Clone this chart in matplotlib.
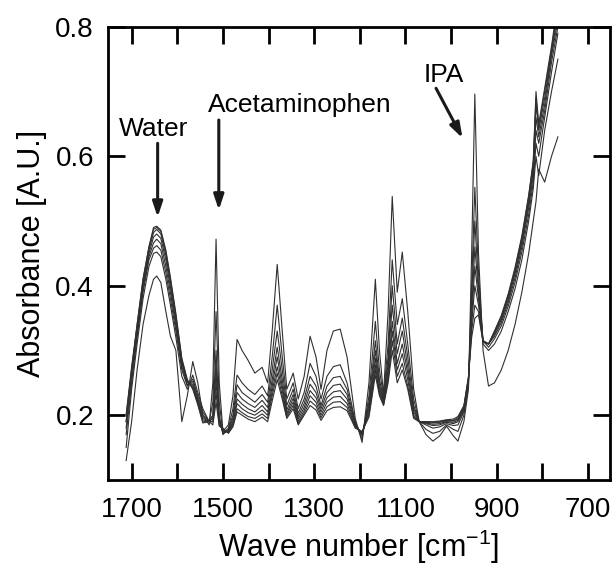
import numpy as np
import matplotlib
matplotlib.use('Agg')
import matplotlib.pyplot as plt

plt.rcParams['font.family'] = ['Liberation Sans', 'DejaVu Sans']
plt.rcParams['mathtext.default'] = 'regular'

wn = [1712, 1700, 1688, 1675, 1662, 1652, 1645, 1636, 1625, 1615, 1603, 1590,
      1578, 1566, 1555, 1544, 1530, 1522, 1515, 1508, 1500, 1488, 1478, 1469,
      1458, 1445, 1430, 1414, 1402, 1392, 1381, 1370, 1360, 1346, 1335, 1322,
      1309, 1296, 1285, 1272, 1258, 1243, 1228, 1210, 1195, 1180, 1166, 1157,
      1148, 1138, 1129, 1118, 1107, 1095, 1082, 1070, 1055, 1040, 1025, 1010,
      995, 985, 972, 962, 955, 948, 940, 930, 918, 905, 890, 875, 860, 845,
      830, 820, 814, 808, 795, 780, 766]

# one row per wave number, one column per spectrum
table = [
    [0.13, 0.15, 0.17, 0.18, 0.19, 0.19, 0.20, 0.20],
    [0.19, 0.24, 0.25, 0.26, 0.265, 0.27, 0.27, 0.275],
    [0.27, 0.31, 0.32, 0.325, 0.33, 0.335, 0.34, 0.34],
    [0.34, 0.38, 0.39, 0.395, 0.40, 0.405, 0.41, 0.41],
    [0.385, 0.43, 0.44, 0.445, 0.45, 0.455, 0.46, 0.46],
    [0.41, 0.45, 0.458, 0.466, 0.475, 0.482, 0.487, 0.49],
    [0.415, 0.452, 0.462, 0.472, 0.48, 0.487, 0.49, 0.492],
    [0.405, 0.445, 0.455, 0.465, 0.473, 0.48, 0.484, 0.486],
    [0.36, 0.41, 0.42, 0.43, 0.44, 0.447, 0.452, 0.455],
    [0.322, 0.37, 0.38, 0.39, 0.398, 0.405, 0.41, 0.413],
    [0.30, 0.32, 0.33, 0.337, 0.344, 0.35, 0.354, 0.357],
    [0.19, 0.26, 0.27, 0.275, 0.28, 0.283, 0.286, 0.288],
    [0.23, 0.24, 0.245, 0.247, 0.25, 0.252, 0.254, 0.255],
    [0.283, 0.262, 0.256, 0.252, 0.248, 0.245, 0.242, 0.24],
    [0.25, 0.235, 0.23, 0.226, 0.223, 0.22, 0.218, 0.216],
    [0.20, 0.21, 0.205, 0.2, 0.196, 0.193, 0.19, 0.188],
    [0.185, 0.19, 0.19, 0.19, 0.19, 0.19, 0.19, 0.19],
    [0.25, 0.22, 0.20, 0.20, 0.195, 0.19, 0.19, 0.185],
    [0.472, 0.36, 0.30, 0.28, 0.265, 0.25, 0.235, 0.22],
    [0.25, 0.22, 0.20, 0.195, 0.19, 0.188, 0.185, 0.183],
    [0.175, 0.172, 0.17, 0.172, 0.174, 0.176, 0.178, 0.18],
    [0.185, 0.18, 0.178, 0.176, 0.175, 0.174, 0.173, 0.172],
    [0.23, 0.21, 0.20, 0.195, 0.19, 0.187, 0.184, 0.182],
    [0.317, 0.262, 0.247, 0.235, 0.225, 0.218, 0.21, 0.205],
    [0.30, 0.25, 0.235, 0.225, 0.217, 0.21, 0.204, 0.20],
    [0.285, 0.24, 0.228, 0.218, 0.21, 0.204, 0.198, 0.194],
    [0.265, 0.232, 0.22, 0.212, 0.205, 0.20, 0.195, 0.19],
    [0.274, 0.245, 0.232, 0.223, 0.215, 0.208, 0.202, 0.197],
    [0.25, 0.23, 0.22, 0.212, 0.205, 0.20, 0.195, 0.19],
    [0.33, 0.29, 0.27, 0.255, 0.245, 0.237, 0.23, 0.222],
    [0.433, 0.37, 0.33, 0.305, 0.29, 0.275, 0.265, 0.255],
    [0.33, 0.29, 0.27, 0.255, 0.245, 0.238, 0.23, 0.225],
    [0.24, 0.225, 0.215, 0.208, 0.203, 0.20, 0.197, 0.195],
    [0.265, 0.25, 0.24, 0.232, 0.226, 0.22, 0.215, 0.21],
    [0.225, 0.21, 0.203, 0.198, 0.194, 0.19, 0.187, 0.185],
    [0.26, 0.235, 0.225, 0.218, 0.212, 0.207, 0.203, 0.20],
    [0.322, 0.28, 0.26, 0.248, 0.238, 0.23, 0.222, 0.215],
    [0.29, 0.26, 0.245, 0.235, 0.227, 0.22, 0.214, 0.208],
    [0.24, 0.225, 0.215, 0.21, 0.205, 0.20, 0.196, 0.192],
    [0.30, 0.26, 0.245, 0.235, 0.227, 0.22, 0.213, 0.207],
    [0.33, 0.275, 0.258, 0.246, 0.236, 0.228, 0.22, 0.212],
    [0.333, 0.278, 0.26, 0.248, 0.238, 0.229, 0.221, 0.213],
    [0.29, 0.25, 0.24, 0.232, 0.225, 0.218, 0.212, 0.207],
    [0.195, 0.19, 0.188, 0.186, 0.184, 0.182, 0.181, 0.18],
    [0.158, 0.163, 0.168, 0.17, 0.171, 0.172, 0.174, 0.175],
    [0.25, 0.23, 0.22, 0.215, 0.21, 0.205, 0.20, 0.197],
    [0.41, 0.345, 0.315, 0.30, 0.288, 0.278, 0.27, 0.262],
    [0.30, 0.27, 0.255, 0.248, 0.242, 0.237, 0.233, 0.23],
    [0.232, 0.228, 0.225, 0.222, 0.22, 0.218, 0.216, 0.215],
    [0.36, 0.31, 0.29, 0.28, 0.27, 0.262, 0.255, 0.25],
    [0.538, 0.44, 0.40, 0.37, 0.345, 0.33, 0.315, 0.30],
    [0.39, 0.34, 0.31, 0.295, 0.28, 0.27, 0.26, 0.25],
    [0.452, 0.38, 0.35, 0.33, 0.31, 0.295, 0.28, 0.27],
    [0.36, 0.31, 0.29, 0.275, 0.265, 0.255, 0.245, 0.24],
    [0.24, 0.225, 0.215, 0.21, 0.205, 0.20, 0.198, 0.195],
    [0.19, 0.19, 0.19, 0.19, 0.19, 0.19, 0.19, 0.19],
    [0.17, 0.178, 0.185, 0.187, 0.188, 0.189, 0.19, 0.19],
    [0.16, 0.172, 0.18, 0.184, 0.186, 0.188, 0.189, 0.19],
    [0.168, 0.175, 0.182, 0.185, 0.187, 0.189, 0.19, 0.191],
    [0.183, 0.185, 0.187, 0.189, 0.19, 0.191, 0.192, 0.193],
    [0.168, 0.178, 0.184, 0.187, 0.189, 0.191, 0.192, 0.194],
    [0.16, 0.175, 0.185, 0.19, 0.192, 0.194, 0.196, 0.198],
    [0.19, 0.20, 0.205, 0.207, 0.21, 0.212, 0.213, 0.215],
    [0.24, 0.245, 0.25, 0.252, 0.254, 0.256, 0.258, 0.26],
    [0.45, 0.40, 0.38, 0.36, 0.35, 0.34, 0.33, 0.32],
    [0.696, 0.552, 0.50, 0.46, 0.43, 0.40, 0.37, 0.35],
    [0.45, 0.42, 0.40, 0.39, 0.38, 0.37, 0.36, 0.355],
    [0.30, 0.31, 0.315, 0.315, 0.315, 0.315, 0.313, 0.313],
    [0.245, 0.30, 0.305, 0.31, 0.31, 0.31, 0.31, 0.31],
    [0.25, 0.31, 0.318, 0.322, 0.325, 0.327, 0.329, 0.33],
    [0.27, 0.33, 0.338, 0.343, 0.347, 0.35, 0.352, 0.354],
    [0.30, 0.36, 0.368, 0.374, 0.378, 0.382, 0.385, 0.387],
    [0.34, 0.395, 0.405, 0.412, 0.418, 0.422, 0.425, 0.428],
    [0.39, 0.44, 0.452, 0.46, 0.466, 0.47, 0.474, 0.477],
    [0.45, 0.50, 0.51, 0.52, 0.527, 0.533, 0.538, 0.54],
    [0.50, 0.55, 0.56, 0.57, 0.578, 0.585, 0.59, 0.593],
    [0.53, 0.60, 0.62, 0.64, 0.66, 0.68, 0.69, 0.70],
    [0.58, 0.57, 0.60, 0.62, 0.63, 0.64, 0.645, 0.65],
    [0.56, 0.64, 0.66, 0.67, 0.68, 0.69, 0.70, 0.705],
    [0.60, 0.70, 0.73, 0.745, 0.755, 0.76, 0.765, 0.77],
    [0.63, 0.75, 0.79, 0.80, 0.81, 0.82, 0.83, 0.84],
]

xticks = [1700, 1500, 1300, 1100, 900, 700]
yticks = [0.2, 0.4, 0.6, 0.8]

fig = plt.figure(figsize=(6.13, 5.70), dpi=100)
ax = fig.add_axes([0.176, 0.158, 0.819, 0.795])

spectra = np.array(table).T
for s in spectra:
    ax.plot(wn, s, color='#303030', lw=0.8)

ax.set_xlim(1752, 652)
ax.set_ylim(0.1, 0.8)
ax.set_xticks(xticks)
ax.set_xticks(np.arange(1600, 700, -200), minor=True)
ax.set_yticks(yticks)
ax.set_yticklabels(['0.2', '0.4', '0.6', '0.8'])
ax.tick_params(which='both', direction='in', top=True, right=True,
               length=12, width=2, labelsize=20)
ax.tick_params(axis='x', pad=12)
ax.tick_params(axis='y', pad=10)
for sp in ax.spines.values():
    sp.set_linewidth(2)

ax.set_xlabel('Wave number [cm$^{-1}$]', fontsize=22, labelpad=4)
ax.set_ylabel('Absorbance [A.U.]', fontsize=22, labelpad=6)

arrow = dict(arrowstyle='-|>,head_length=0.9,head_width=0.3', color='#1a1a1a',
             lw=2.2, shrinkA=0, shrinkB=0)
ax.text(1652, 0.631, 'Water', fontsize=19, ha='center', va='baseline')
ax.annotate('', xy=(1643, 0.506), xytext=(1643, 0.62), arrowprops=arrow)
ax.text(1533, 0.669, 'Acetaminophen', fontsize=19, ha='left', va='baseline')
ax.annotate('', xy=(1509, 0.517), xytext=(1509, 0.656), arrowprops=arrow)
ax.text(1061, 0.714, 'IPA', fontsize=19, ha='left', va='baseline')
ax.annotate('', xy=(975, 0.628), xytext=(1033, 0.705), arrowprops=arrow)

fig.savefig('out.png', dpi=100)
